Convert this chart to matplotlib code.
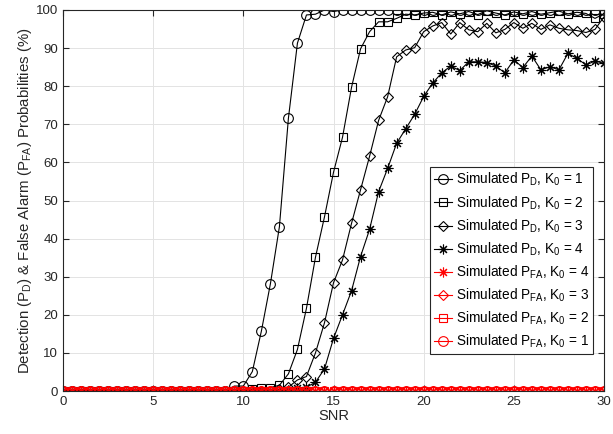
import numpy as np
import matplotlib
matplotlib.use("Agg")
import matplotlib.pyplot as plt

plt.rcParams['font.family'] = ['Liberation Sans', 'DejaVu Sans']
plt.rcParams['mathtext.fontset'] = 'custom'
plt.rcParams['mathtext.rm'] = 'Liberation Sans'
plt.rcParams['mathtext.it'] = 'Liberation Sans'
plt.rcParams['mathtext.default'] = 'regular'

# SNR grid (0 to 30 in steps of 0.5)
snr = np.arange(0, 30.5, 0.5)

# Detection probabilities (%)
pd_k1 = [0, 0, 0, 0, 0, 0, 0, 0, 0, 0, 0, 0, 0, 0, 0, 0, 0, 0, 0,
         1.3, 1.3, 5.1, 15.7, 28.1, 43.1, 71.6, 91.3, 98.7, 98.9, 100, 99.6,
         100, 100, 100, 100, 100, 100, 100, 100, 100, 100, 100, 100, 100, 100, 100,
         100, 100, 100, 100, 100, 100, 100, 100, 100, 100, 100, 100, 100, 100, 100]
pd_k2 = [0, 0, 0, 0, 0, 0, 0, 0, 0, 0, 0, 0, 0, 0, 0, 0, 0, 0, 0, 0, 0,
         0.5, 0.8, 0.9, 1.5, 4.5, 10.9, 21.7, 35.1, 45.7, 57.4, 66.6, 79.7, 89.8,
         94.3, 96.9, 96.9, 97.8, 98.9, 98.7,
         99.2, 99.4, 98.7, 99.5, 99.0, 99.6, 98.8, 99.8, 99.2, 98.7, 99.5,
         99.0, 99.6, 98.9, 99.3, 99.7, 99.0, 99.4, 99.1, 97.8, 99.0]
pd_k3 = [0, 0, 0, 0, 0, 0, 0, 0, 0, 0, 0, 0, 0, 0, 0, 0, 0, 0, 0, 0, 0, 0, 0, 0,
         0.5, 1.0, 2.9, 3.8, 10.0, 17.9, 28.4, 34.4, 44.0, 52.8, 61.6, 71.0, 77.2,
         87.7, 89.5, 90.1, 94.3, 95.8, 96.7, 93.7, 96.7, 94.8, 94.3, 96.5, 94.0,
         94.9, 96.7, 95.2, 96.5, 94.9, 96.1, 95.2, 94.8, 94.6, 94.1, 94.9, 98.2]
pd_k4 = [0, 0, 0, 0, 0, 0, 0, 0, 0, 0, 0, 0, 0, 0, 0, 0, 0, 0, 0, 0, 0, 0, 0, 0, 0,
         0.3, 0.8, 1.0, 2.3, 5.8, 13.8, 20.0, 26.3, 35.3, 42.4, 52.3, 58.4, 65.0,
         68.8, 72.6, 77.3, 80.8, 83.5, 85.3, 84.1, 86.4, 86.4, 86.2, 85.3, 83.5,
         86.9, 84.9, 87.9, 84.3, 85.1, 84.3, 88.6, 87.3, 85.6, 86.6, 86.0]

# False alarm probabilities (%), all zero in the reference
pfa_k4 = [0] * 61
pfa_k3 = [0] * 61
pfa_k2 = [0] * 61
pfa_k1 = [0] * 61

k_values = [1, 2, 3, 4]
pd_series = [pd_k1, pd_k2, pd_k3, pd_k4]
pfa_series = [pfa_k4, pfa_k3, pfa_k2, pfa_k1]
pfa_k = [4, 3, 2, 1]

markers = {1: ('o', 7), 2: ('s', 6), 3: ('D', 5.5), 4: ((8, 2, 0), 7)}

fig = plt.figure(figsize=(6.13, 4.34), dpi=100)
ax = fig.add_axes([63 / 613, 43 / 434, 541 / 613, 381 / 434])

for k, vals in zip(k_values, pd_series):
    m, ms = markers[k]
    ax.plot(snr, vals, color='black', lw=0.8, marker=m, ms=ms,
            mfc='none', mec='black', mew=0.8,
            label='Simulated P$_{D}$, K$_{0}$ = %d' % k)

for k, vals in zip(pfa_k, pfa_series):
    m, ms = markers[k]
    ax.plot(snr, vals, color='red', lw=0.8, marker=m, ms=ms,
            mfc='none', mec='red', mew=0.8,
            label='Simulated P$_{FA}$, K$_{0}$ = %d' % k)

ax.set_xlim(0, 30)
ax.set_ylim(0, 100)
ax.set_xticks(np.arange(0, 31, 5))
ax.set_yticks(np.arange(0, 101, 10))
ax.grid(True, color='#e3e3e3', lw=0.7)
ax.set_axisbelow(True)
ax.tick_params(direction='in', top=True, right=True, length=4,
               labelsize=9.5, colors='#262626')
for s in ax.spines.values():
    s.set_color('#262626')
    s.set_linewidth(0.8)

ax.set_xlabel('SNR', fontsize=10.5, color='#262626', labelpad=1)
ax.set_ylabel('Detection (P$_{D}$) & False Alarm (P$_{FA}$) Probabilities (%)',
              fontsize=10.8, color='#262626', labelpad=1)

leg = ax.legend(loc='upper left', bbox_to_anchor=(0.678, 0.588), fontsize=9.8,
                frameon=True, fancybox=False, framealpha=1, edgecolor='#262626',
                handlelength=1.3, handletextpad=0.3, borderpad=0.3,
                labelspacing=0.42, borderaxespad=0)
leg.get_frame().set_linewidth(0.8)

fig.savefig('out.png', dpi=100)
